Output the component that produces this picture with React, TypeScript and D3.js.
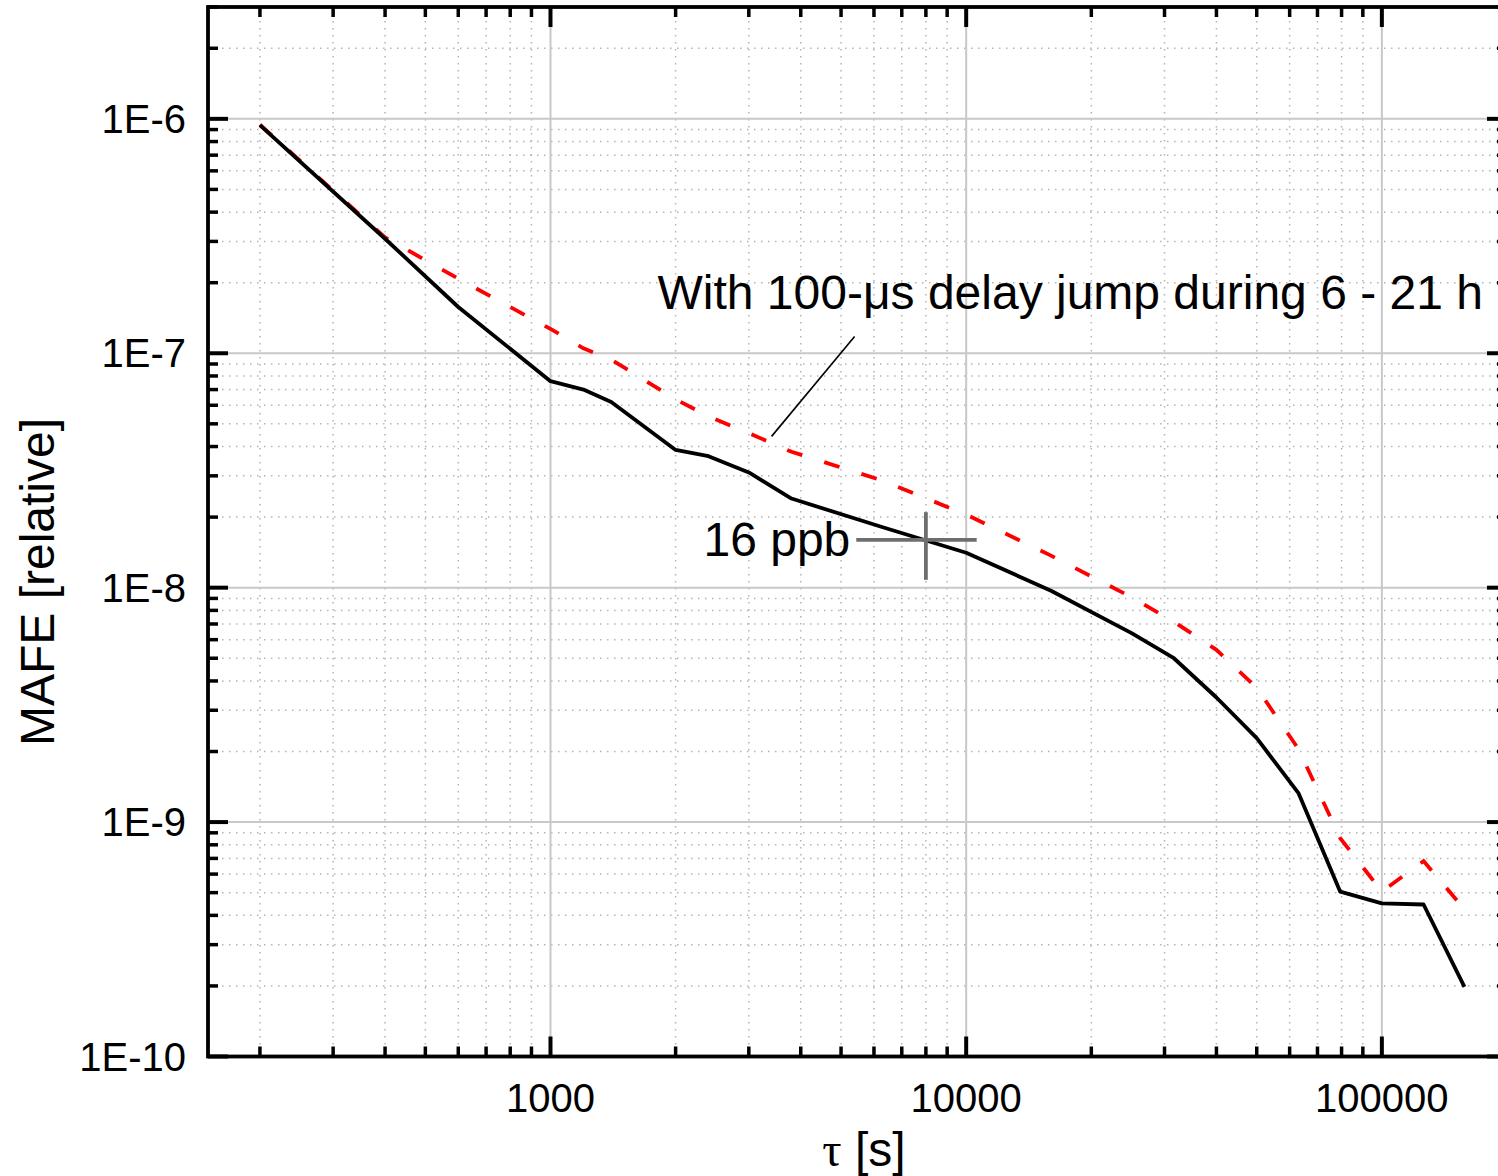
import React from "react";
import * as d3 from "d3";

// ---- data ----
const tau = [200, 400, 600, 1000, 1200, 1400, 2000, 2400, 3000, 3800, 6300, 10000, 16000, 25000, 31600, 40000, 50000, 63000, 79400, 100000, 126000, 158000];
const mafeNormal = [9.4e-7, 3.08e-7, 1.575e-7, 7.6e-8, 7.0e-8, 6.2e-8, 3.87e-8, 3.64e-8, 3.1e-8, 2.4e-8, 1.81e-8, 1.41e-8, 9.7e-9, 6.4e-9, 5.0e-9, 3.4e-9, 2.28e-9, 1.33e-9, 5.05e-10, 4.5e-10, 4.45e-10, 1.98e-10];
const mafeJump = [9.45e-7, 3.12e-7, 2.08e-7, 1.27e-7, 1.05e-7, 9.4e-8, 6.36e-8, 5.38e-8, 4.56e-8, 3.8e-8, 2.86e-8, 2.05e-8, 1.37e-8, 9.1e-9, 7.16e-9, 5.43e-9, 3.74e-9, 2.05e-9, 8.54e-10, 5.05e-10, 6.82e-10, 4.25e-10];

const xMajorTicks = [1000, 10000, 100000];
const xTickLabels = ["1000", "10000", "100000"];
const yMajorTicks = [1e-10, 1e-9, 1e-8, 1e-7, 1e-6];
const yTickLabels = ["1E-10", "1E-9", "1E-8", "1E-7", "1E-6"];

const xDomain = [150, 200000];
const yDomain = [1e-10, 3e-6];

// marker cross "16 ppb": center, horizontal extent, vertical extent
const crossCenter = [8000, 1.6e-8];
const crossX = [5440, 10600];
const crossY = [1.08e-8, 2.1e-8];
const crossLabel = "16 ppb";

const annotationText = "With 100-\u03bcs delay jump during 6 - 21 h";
const annotationPos = [1809, 1.54e-7];
const leaderFrom = [5390, 1.18e-7];
const leaderTo = [3403, 4.42e-8];

const xLabel = "\u03c4 [s]";
const yLabel = "MAFE [relative]";

// ---- layout ----
const W = 1498;
const H = 1176;
const L = 208;
const R = 1507;
const T = 7;
const B = 1056.5;
const FONT = "'Liberation Sans', Arial, Helvetica, sans-serif";

function minorTicks(lo: number, hi: number): number[] {
  const out: number[] = [];
  for (let e = Math.floor(Math.log10(lo)); e <= Math.ceil(Math.log10(hi)); e++) {
    for (let m = 2; m <= 9; m++) {
      const v = m * Math.pow(10, e);
      if (v >= lo * 0.999 && v <= hi * 1.001) out.push(v);
    }
  }
  return out;
}

export default function App() {
  const x = d3.scaleLog().domain(xDomain).range([L, R]);
  const y = d3.scaleLog().domain(yDomain).range([B, T]);

  const xMinor = minorTicks(xDomain[0], xDomain[1]);
  const yMinor = minorTicks(yDomain[0], yDomain[1]);

  const line = d3
    .line<[number, number]>()
    .x((d) => x(d[0]))
    .y((d) => y(d[1]));

  const normalPts = tau.map((t, i) => [t, mafeNormal[i]] as [number, number]);
  const jumpPts = tau.map((t, i) => [t, mafeJump[i]] as [number, number]);

  const gridMajor = "#c8c8c8";
  const gridMinor = "#b4b4b4";

  return (
    <div style={{ position: "absolute", left: 0, top: 0 }}>
      <svg width={W} height={H} style={{ display: "block" }}>
        <rect x={0} y={0} width={W} height={H} fill="#fff" />
        {/* minor grid */}
        <g stroke={gridMinor} strokeWidth={1.5} strokeDasharray="1.5,5.5">
          {xMinor.map((v) => (
            <line key={"gx" + v} x1={x(v)} x2={x(v)} y1={T} y2={B} />
          ))}
          {yMinor.map((v) => (
            <line key={"gy" + v} x1={L} x2={R} y1={y(v)} y2={y(v)} />
          ))}
        </g>
        {/* major grid */}
        <g stroke={gridMajor} strokeWidth={2}>
          {xMajorTicks.map((v) => (
            <line key={"GX" + v} x1={x(v)} x2={x(v)} y1={T} y2={B} />
          ))}
          {yMajorTicks.map((v) => (
            <line key={"GY" + v} x1={L} x2={R} y1={y(v)} y2={y(v)} />
          ))}
        </g>

        {/* data */}
        <path d={line(jumpPts) || ""} fill="none" stroke="#ff0000" strokeWidth={3.8} strokeDasharray="16,23" />
        <path d={line(normalPts) || ""} fill="none" stroke="#000" strokeWidth={3.8} strokeLinejoin="round" />

        {/* cross marker */}
        <g stroke="#6e6e6e" strokeWidth={3.8}>
          <line x1={x(crossX[0])} x2={x(crossX[1])} y1={y(crossCenter[1])} y2={y(crossCenter[1])} />
          <line x1={x(crossCenter[0])} x2={x(crossCenter[0])} y1={y(crossY[0])} y2={y(crossY[1])} />
        </g>
        <text x={x(crossX[0]) - 6} y={y(crossCenter[1]) + 16} fontFamily={FONT} fontSize={48} textAnchor="end" fill="#000">
          {crossLabel}
        </text>

        {/* annotation */}
        <line x1={x(leaderFrom[0])} y1={y(leaderFrom[1])} x2={x(leaderTo[0])} y2={y(leaderTo[1])} stroke="#000" strokeWidth={1.6} />
        <text x={x(annotationPos[0])} y={y(annotationPos[1])} fontFamily={FONT} fontSize={48} fill="#000">
          {annotationText}
        </text>

        {/* frame */}
        <rect x={L} y={T} width={R - L} height={B - T} fill="none" stroke="#000" strokeWidth={3.8} />

        {/* ticks */}
        <g stroke="#000">
          {xMinor.map((v) => (
            <g key={"tx" + v} strokeWidth={3.5}>
              <line x1={x(v)} x2={x(v)} y1={B} y2={B - 10} />
              <line x1={x(v)} x2={x(v)} y1={T} y2={T + 10} />
            </g>
          ))}
          {xMajorTicks.map((v) => (
            <g key={"TX" + v} strokeWidth={4}>
              <line x1={x(v)} x2={x(v)} y1={B} y2={B - 20} />
              <line x1={x(v)} x2={x(v)} y1={T} y2={T + 20} />
            </g>
          ))}
          {yMinor.map((v) => (
            <g key={"ty" + v} strokeWidth={3.5}>
              <line x1={L} x2={L + 10} y1={y(v)} y2={y(v)} />
              <line x1={R} x2={R - 10} y1={y(v)} y2={y(v)} />
            </g>
          ))}
          {yMajorTicks.map((v) => (
            <g key={"TY" + v} strokeWidth={4}>
              <line x1={L} x2={L + 20} y1={y(v)} y2={y(v)} />
              <line x1={R} x2={R - 20} y1={y(v)} y2={y(v)} />
            </g>
          ))}
        </g>

        {/* tick labels */}
        <g fontFamily={FONT} fontSize={40} fill="#000">
          {xMajorTicks.map((v, i) => (
            <text key={"lx" + v} x={x(v)} y={1112} textAnchor="middle">
              {xTickLabels[i]}
            </text>
          ))}
          {yMajorTicks.map((v, i) => (
            <text key={"ly" + v} x={186} y={y(v) + 14} textAnchor="end">
              {yTickLabels[i]}
            </text>
          ))}
        </g>

        {/* axis titles */}
        <text x={864} y={1166} fontSize={48} textAnchor="middle" fill="#000" fontFamily={FONT}>
          <tspan fontFamily="'Liberation Serif', 'Times New Roman', serif">{xLabel.charAt(0)}</tspan>
          {xLabel.slice(1)}
        </text>
        <text transform="translate(54,582) rotate(-90)" fontSize={48} textAnchor="middle" fill="#000" fontFamily={FONT}>
          {yLabel}
        </text>
      </svg>
    </div>
  );
}
